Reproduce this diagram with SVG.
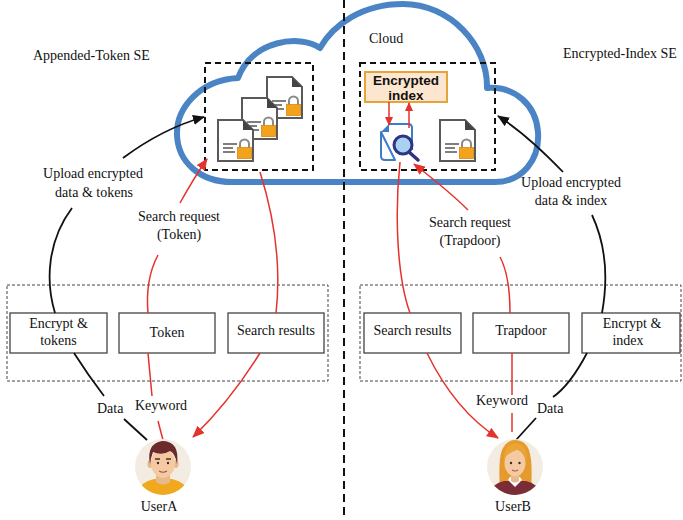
<svg xmlns="http://www.w3.org/2000/svg" width="683" height="520" viewBox="0 0 683 520">
  <style>
    text { font-family: "Liberation Serif", "Times New Roman", serif; font-size: 14px; fill: #111; }
    .mid { text-anchor: middle; }
    .bold { font-family: "Liberation Sans", Arial, sans-serif; font-weight: bold; font-size: 13.5px; }
    .box { fill: #fff; stroke: #444; stroke-width: 1.3; }
    .group { fill: none; stroke: #444; stroke-width: 1; stroke-dasharray: 3 2; }
    .store { fill: none; stroke: #111; stroke-width: 2; stroke-dasharray: 6 4; }
    .red { fill: none; stroke: #e5322c; stroke-width: 1.5; }
    .blk { fill: none; stroke: #111; stroke-width: 1.8; }
    .doc { fill: #fff; stroke: #595959; stroke-width: 2; stroke-linejoin: miter; }
  </style>
  <defs>
    <marker id="ahRed" markerUnits="userSpaceOnUse" markerWidth="12" markerHeight="10" refX="11" refY="5" orient="auto">
      <path d="M0,0 L12,5 L0,10 Z" fill="#e5322c"/>
    </marker>
    <marker id="ahRedS" markerUnits="userSpaceOnUse" markerWidth="9" markerHeight="8" refX="8" refY="4" orient="auto">
      <path d="M0,0 L9,4 L0,8 Z" fill="#e5322c"/>
    </marker>
    <marker id="ahBlk" markerUnits="userSpaceOnUse" markerWidth="12" markerHeight="10" refX="11" refY="5" orient="auto">
      <path d="M0,0 L12,5 L0,10 Z" fill="#111"/>
    </marker>
    <!-- encrypted document: page, folded corner, text lines, padlock -->
    <g id="lockedDoc">
      <path class="doc" d="M1,1 H26 L36,11 V42 H1 Z"/>
      <path d="M26,1 L36,11 H26 Z" fill="#444"/>
      <path d="M6,25 H20 M6,29 H16 M6,33 H18" stroke="#555" stroke-width="1.6"/>
      <path d="M23,29 V25 a4.5,4.5 0 0 1 9,0 V29" fill="none" stroke="#8a8a8a" stroke-width="2"/>
      <rect x="20.5" y="28.5" width="14" height="11" fill="#f2a31b" stroke="#d98a10" stroke-width="0.8"/>
    </g>
    <clipPath id="clipA"><circle cx="163" cy="467" r="28"/></clipPath>
    <clipPath id="clipB"><circle cx="515" cy="467" r="28"/></clipPath>
  </defs>

  <!-- cloud outline -->
  <g id="cloud">
    <path d="M232,182 L495,182 C522,182 540,160 538,132 C536,105 515,86 487,88 C488,45 450,4 403,4 C362,4 333,25 320,48 C300,34 252,40 238,78 C200,80 176,108 177,135 C178,162 200,182 232,182 Z" fill="#fff" stroke="#4a84c4" stroke-width="6" stroke-linejoin="round"/>
  </g>

  <!-- divider between the two schemes -->
  <line x1="344" y1="0" x2="344" y2="520" stroke="#111" stroke-width="2" stroke-dasharray="8 5"/>

  <!-- cloud storage: appended-token side -->
  <g id="store-token">
    <rect class="store" x="205" y="63" width="108" height="107"/>
    <use href="#lockedDoc" x="266" y="76"/>
    <use href="#lockedDoc" x="241" y="97"/>
    <use href="#lockedDoc" x="217" y="119"/>
  </g>

  <!-- cloud storage: encrypted-index side -->
  <g id="store-index">
    <rect class="store" x="360" y="63" width="135" height="107"/>
    <g id="index-box">
      <rect x="365" y="72" width="82" height="30" fill="#fde6cf" stroke="#e6a33a" stroke-width="2"/>
      <text class="bold mid" x="406" y="85">Encrypted</text>
      <text class="bold mid" x="406" y="99.5">index</text>
    </g>
    <g id="search-icon">
      <path d="M389,124 H408 Q412,124 412,128 V150 M395,160 H385 Q381,160 381,156 V132 Z" fill="#fff" stroke="#3b7dc9" stroke-width="2" stroke-linejoin="round"/>
      <path d="M381,132 L389,124 V132 Z" fill="#3b7dc9"/>
      <line x1="409" y1="152" x2="418" y2="160" stroke="#2f3582" stroke-width="3.5" stroke-linecap="round"/>
      <circle cx="403" cy="145" r="9" fill="#a9d1f2" stroke="#2f3582" stroke-width="3"/>
    </g>
    <use href="#lockedDoc" x="439" y="119"/>
  </g>

  <!-- appended-token client -->
  <g id="client-token">
    <rect class="group" x="7" y="285" width="321" height="96"/>
    <g id="enc-tokens">
      <rect class="box" x="10" y="313" width="97" height="40"/>
      <text class="mid" x="58.5" y="328">Encrypt &amp;</text>
      <text class="mid" x="58.5" y="345">tokens</text>
    </g>
    <g id="token">
      <rect class="box" x="119" y="313" width="96" height="40"/>
      <text class="mid" x="167" y="337">Token</text>
    </g>
    <g id="results-a">
      <rect class="box" x="228" y="313" width="96" height="40"/>
      <text class="mid" x="276" y="335">Search results</text>
    </g>
  </g>

  <!-- encrypted-index client -->
  <g id="client-index">
    <rect class="group" x="360" y="285" width="321" height="96"/>
    <g id="results-b">
      <rect class="box" x="364" y="313" width="97" height="40"/>
      <text class="mid" x="412.5" y="335">Search results</text>
    </g>
    <g id="trapdoor">
      <rect class="box" x="473" y="313" width="96" height="40"/>
      <text class="mid" x="521" y="335">Trapdoor</text>
    </g>
    <g id="enc-index">
      <rect class="box" x="582" y="313" width="98" height="40"/>
      <text class="mid" x="632" y="328">Encrypt &amp;</text>
      <text class="mid" x="628" y="345">index</text>
    </g>
  </g>

  <!-- flows -->
  <g id="connectors">
    <!-- appended-token: upload -->
    <path class="blk" d="M55,313 C45,280 48,240 72,208"/>
    <path class="blk" d="M123,158 C150,138 175,125 204,117" marker-end="url(#ahBlk)"/>
    <path class="blk" d="M74,353 Q88,375 104,396"/>
    <path class="blk" d="M124,419 L147,440"/>
    <!-- appended-token: search request -->
    <path class="red" d="M148,313 C146,290 150,270 158,255"/>
    <path class="red" d="M180,203 C190,185 198,172 207,159" marker-end="url(#ahRed)"/>
    <path class="red" d="M148,353 L152,396"/>
    <path class="red" d="M158,421 L163,440"/>
    <!-- appended-token: search results -->
    <path class="red" d="M260,172 C272,210 282,260 276,313"/>
    <path class="red" d="M260,353 C240,385 218,413 193,437" marker-end="url(#ahRed)"/>
    <!-- encrypted-index: index lookup -->
    <path class="red" d="M389,102 V125" marker-end="url(#ahRedS)"/>
    <path class="red" d="M409,128 V103" marker-end="url(#ahRedS)"/>
    <!-- encrypted-index: search results -->
    <path class="red" d="M400,162 C394,220 398,280 410,313"/>
    <path class="red" d="M427,353 C445,390 470,420 498,438" marker-end="url(#ahRed)"/>
    <!-- encrypted-index: search request -->
    <path class="red" d="M510,313 C510,290 507,270 500,257"/>
    <path class="red" d="M468,210 C450,192 432,178 414,164" marker-end="url(#ahRed)"/>
    <path class="red" d="M512,353 L512,395"/>
    <path class="red" d="M512,413 L512,432"/>
    <!-- encrypted-index: upload -->
    <path class="blk" d="M602,313 C608,280 606,245 592,215"/>
    <path class="blk" d="M563,172 C540,148 520,130 498,116" marker-end="url(#ahBlk)"/>
    <path class="blk" d="M587,353 C577,372 566,388 553,397"/>
    <path class="blk" d="M536,418 L516,440"/>
  </g>

  <!-- labels -->
  <g id="labels">
    <text x="33" y="60">Appended-Token SE</text>
    <text x="369" y="43">Cloud</text>
    <text x="563" y="58">Encrypted-Index SE</text>
    <text class="mid" x="93" y="178">Upload encrypted</text>
    <text class="mid" x="94" y="197">data &amp; tokens</text>
    <text class="mid" x="179" y="221">Search request</text>
    <text class="mid" x="179" y="239">(Token)</text>
    <text class="mid" x="470" y="227">Search request</text>
    <text class="mid" x="470" y="245">(Trapdoor)</text>
    <text class="mid" x="571" y="187">Upload encrypted</text>
    <text class="mid" x="571" y="205">data &amp; index</text>
    <text x="97" y="413">Data</text>
    <text x="135" y="410">Keyword</text>
    <text x="476" y="405">Keyword</text>
    <text x="537" y="413">Data</text>
  </g>

  <!-- user A -->
  <g id="userA">
    <circle cx="163" cy="467" r="28" fill="#f3ece3"/>
    <g clip-path="url(#clipA)">
      <path d="M133,500 Q138,482 154,479 L172,479 Q188,482 193,500 Z" fill="#f0a81f"/>
      <path d="M156,474 H170 V482 Q163,487 156,482 Z" fill="#e9b98e"/>
      <ellipse cx="150" cy="464" rx="2.5" ry="4" fill="#eab68c"/>
      <ellipse cx="176" cy="464" rx="2.5" ry="4" fill="#eab68c"/>
      <ellipse cx="163" cy="463" rx="12" ry="15" fill="#f5caa2"/>
      <path d="M150,464 Q146,444 162,441 Q180,441 177,464 Q175,453 170,451 Q162,456 153,452 Q151,457 150,464 Z" fill="#6b2b2d"/>
      <path d="M155,459 H160 M166,459 H171" stroke="#5a2a2a" stroke-width="1.3"/>
      <circle cx="158" cy="463" r="1.2" fill="#3a2a2a"/>
      <circle cx="168" cy="463" r="1.2" fill="#3a2a2a"/>
      <path d="M159,471 Q163,473.5 167,471" fill="none" stroke="#a8594a" stroke-width="1.2"/>
    </g>
    <text class="mid" x="159" y="511">UserA</text>
  </g>

  <!-- user B -->
  <g id="userB">
    <circle cx="515" cy="467" r="28" fill="#f3ece3"/>
    <g clip-path="url(#clipB)">
      <path d="M500,490 Q498,460 502,450 Q507,440 515,440 Q525,440 529,450 Q533,462 531,490 Z" fill="#e59a2c"/>
      <path d="M486,500 Q490,484 504,481 L526,481 Q540,484 544,500 Z" fill="#7a2d37"/>
      <path d="M508,480 L515,487 L522,480 L520,477 H510 Z" fill="#fff"/>
      <path d="M511,474 H519 V481 Q515,484 511,481 Z" fill="#e9b98e"/>
      <ellipse cx="515" cy="463" rx="10.5" ry="13.5" fill="#f5caa2"/>
      <path d="M504,462 Q503,445 515,443 Q528,444 527,462 Q525,452 519,449 Q511,452 506,456 Z" fill="#eba534"/>
      <circle cx="511" cy="463" r="1.2" fill="#3a2a2a"/>
      <circle cx="519.5" cy="463" r="1.2" fill="#3a2a2a"/>
      <path d="M512,470 Q515,472 518,470" fill="none" stroke="#a8594a" stroke-width="1.1"/>
    </g>
    <text class="mid" x="513" y="511">UserB</text>
  </g>
</svg>
